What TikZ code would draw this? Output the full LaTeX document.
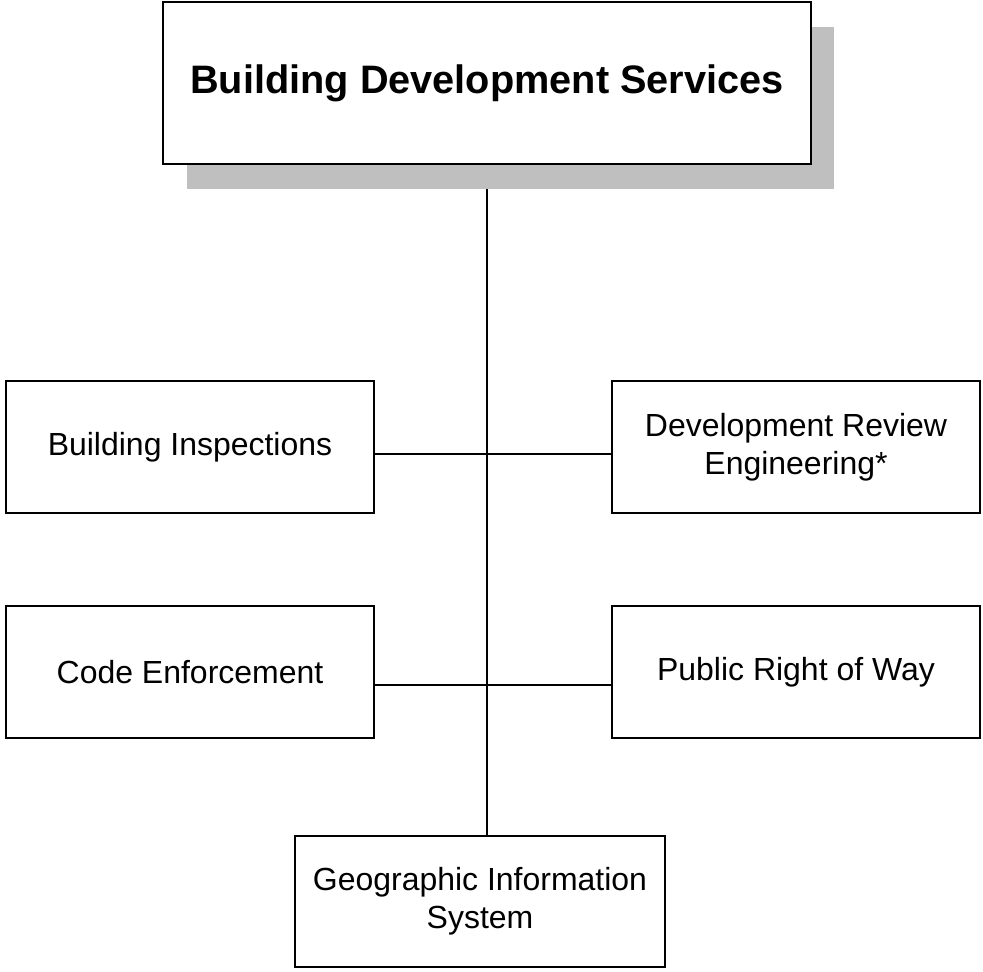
\documentclass[tikz,border=0pt]{standalone}
\usepackage{fontspec}
\setmainfont{Liberation Sans}
\usetikzlibrary{shadows}

\tikzset{
    unit/.style={draw, line width=0.9pt, fill=white, align=center,
        minimum width=7.36cm, minimum height=2.64cm,
        font=\fontsize{18.2}{21.5}\selectfont},
    head/.style={unit, minimum width=12.96cm, minimum height=3.24cm,
        font=\fontsize{22.6}{26}\bfseries\selectfont,
        drop shadow={shadow xshift=0.47cm, shadow yshift=-0.5cm,
            fill=black!25, opacity=1}},
    link/.style={line width=0.6pt}
}

\begin{document}
\begin{tikzpicture}[x=0.02cm, y=-0.02cm]
        \useasboundingbox (0, 0) rectangle (983, 972);
        % junctions on the trunk line
        \coordinate (top) at (487, 164);
        \coordinate (j1) at (487, 454);
        \coordinate (j2) at (487, 685);

        \node[unit] (insp) at (190, 447) {Building Inspections};
        \node[unit] (rev) at (796, 447) {Development Review\\Engineering*};
        \node[unit] (code) at (190, 672) {Code Enforcement};
        \node[unit] (row) at (796, 672) {Public Right of Way};
        \node[unit, minimum width=7.4cm, minimum height=2.62cm] (gis) at (480, 901.5)
            {Geographic Information\\System};

        \draw[link] (top) -- (top |- gis.north);
        \draw[link] (insp.east |- j1) -- (rev.west |- j1);
        \draw[link] (code.east |- j2) -- (row.west |- j2);

        \node[head] (bds) at (487, 83) {Building Development Services};
    \end{tikzpicture}
\end{document}
